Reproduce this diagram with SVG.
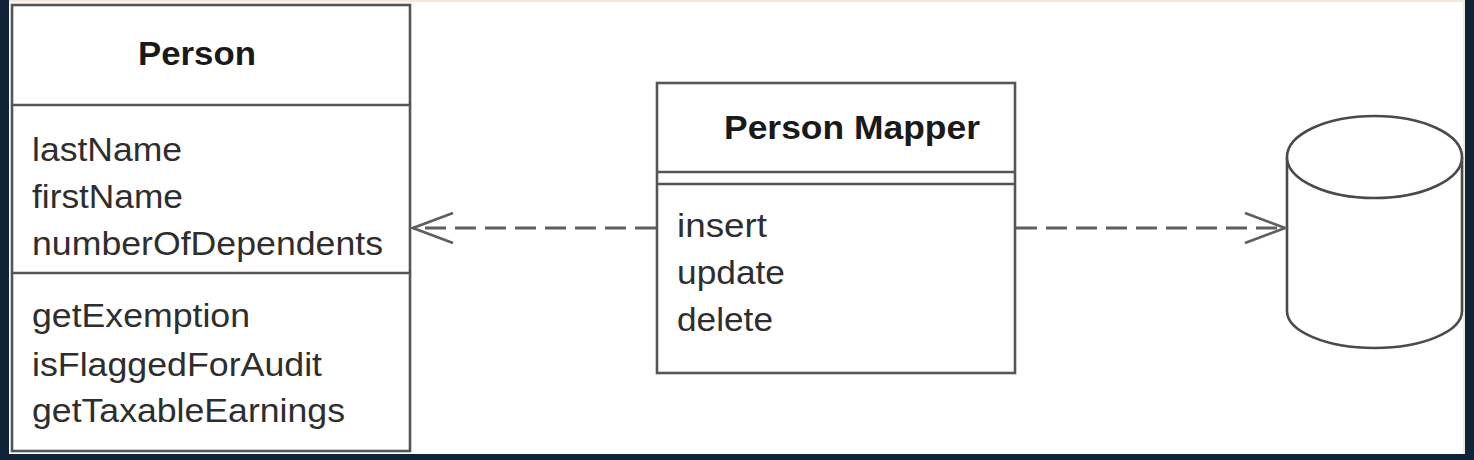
<svg xmlns="http://www.w3.org/2000/svg" width="1474" height="460" viewBox="0 0 1474 460">
  <style>
    .box { fill: #ffffff; stroke: #555555; stroke-width: 2.6; }
    .div { stroke: #555555; stroke-width: 2.6; fill: none; }
    .title { font-family: "Liberation Sans", Arial, sans-serif; font-weight: bold; font-size: 34px; fill: #1a1a1a; }
    .item { font-family: "Liberation Sans", Arial, sans-serif; font-size: 34px; fill: #2e2e2e; }
    .dep { stroke: #5f5f5f; stroke-width: 3; stroke-dasharray: 21 9; fill: none; }
    .cyl { fill: #ffffff; stroke: #4a4a4a; stroke-width: 2.6; }
  </style>
  <defs>
    <marker id="openArrow" markerUnits="userSpaceOnUse" markerWidth="50" markerHeight="40" refX="0" refY="0" orient="auto" overflow="visible">
      <path d="M-40,-15 L0,0 L-40,15" fill="none" stroke="#5f5f5f" stroke-width="2.8"/>
    </marker>
  </defs>

  <rect x="0" y="0" width="1474" height="460" fill="#0f2436"/>
  <rect x="9" y="0" width="1456" height="454" fill="#ffffff"/>
  <rect x="9" y="0" width="1456" height="2" fill="#f4ead6"/>
  <rect x="1463" y="0" width="2" height="454" fill="#f4ead6"/>

  <g id="person">
    <rect class="box" x="12" y="5" width="398" height="446"/>
    <line class="div" x1="12" y1="105" x2="410" y2="105"/>
    <line class="div" x1="12" y1="273" x2="410" y2="273"/>
    <text class="title" x="138" y="65" textLength="118" lengthAdjust="spacingAndGlyphs">Person</text>
    <text class="item" x="32" y="161" textLength="150" lengthAdjust="spacingAndGlyphs">lastName</text>
    <text class="item" x="32" y="208" textLength="151" lengthAdjust="spacingAndGlyphs">firstName</text>
    <text class="item" x="32" y="255" textLength="351" lengthAdjust="spacingAndGlyphs">numberOfDependents</text>
    <text class="item" x="32" y="327" textLength="218" lengthAdjust="spacingAndGlyphs">getExemption</text>
    <text class="item" x="32" y="376" textLength="290" lengthAdjust="spacingAndGlyphs">isFlaggedForAudit</text>
    <text class="item" x="32" y="422" textLength="313" lengthAdjust="spacingAndGlyphs">getTaxableEarnings</text>
  </g>

  <g id="person-mapper">
    <rect class="box" x="657" y="83" width="358" height="290"/>
    <line class="div" x1="657" y1="172" x2="1015" y2="172"/>
    <line class="div" x1="657" y1="184" x2="1015" y2="184"/>
    <text class="title" x="724" y="139" textLength="256" lengthAdjust="spacingAndGlyphs">Person Mapper</text>
    <text class="item" x="677" y="237" textLength="90" lengthAdjust="spacingAndGlyphs">insert</text>
    <text class="item" x="677" y="284" textLength="108" lengthAdjust="spacingAndGlyphs">update</text>
    <text class="item" x="677" y="331" textLength="96" lengthAdjust="spacingAndGlyphs">delete</text>
  </g>

  <g id="database">
    <path class="cyl" d="M1287,157 L1287,311 A87.5,37 0 0 0 1462,311 L1462,157"/>
    <ellipse class="cyl" cx="1374.5" cy="157" rx="87.5" ry="41"/>
  </g>

  <g id="connectors">
    <line class="dep" x1="656" y1="228" x2="413" y2="228" marker-end="url(#openArrow)"/>
    <line class="dep" x1="1016" y1="228" x2="1285" y2="228" marker-end="url(#openArrow)"/>
  </g>
</svg>
